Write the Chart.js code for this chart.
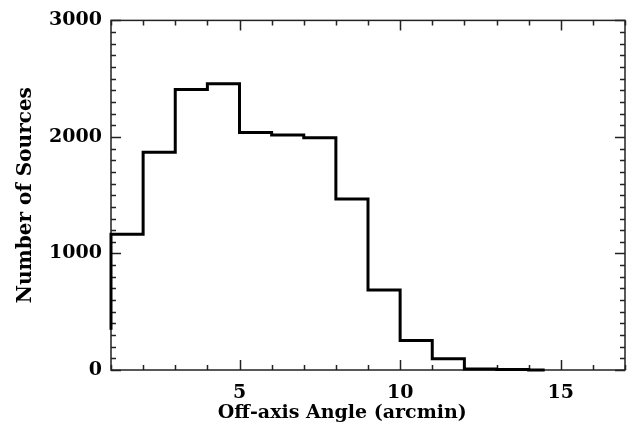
<!DOCTYPE html>
<html>
<head>
<meta charset="utf-8">
<script src="https://cdn.jsdelivr.net/npm/chart.js@4"></script>
<style>
  html, body { margin: 0; padding: 0; background: #fff; }
  #wrap { width: 636px; height: 438px; }
</style>
</head>
<body>
<div id="wrap"><canvas id="histChart" width="636" height="438"></canvas></div>
<script>
// histogram bins (left edges, arcmin) and counts per bin
const binLeft = [1, 2, 3, 4, 5, 6, 7, 8, 9, 10, 11, 12, 13, 14];
const counts = [1165, 1868, 2407, 2457, 2039, 2017, 1992, 1468, 686, 254, 97, 9, 4, 1];
const lastEdge = 14.5;
const startLevel = 345;
const xTickLabels = [5, 10, 15];
const yTickLabels = [0, 1000, 2000, 3000];
const xTitle = 'Off-axis Angle (arcmin)';

const FONT = '"DejaVu Serif", "Liberation Serif", serif';

// build step points for the outline
const stepPoints = [{ x: binLeft[0], y: startLevel }];
binLeft.forEach((x, i) => stepPoints.push({ x: x, y: counts[i] }));
stepPoints.push({ x: lastEdge, y: counts[counts.length - 1] });

// box + inward ticks on all four sides, IDL style
const boxTicks = {
  id: 'boxTicks',
  beforeDatasetsDraw(chart) {
    const { ctx, chartArea: a, scales: { x, y } } = chart;
    ctx.save();
    ctx.strokeStyle = '#222';
    ctx.lineWidth = 1.5;
    ctx.strokeRect(a.left, a.top, a.right - a.left, a.bottom - a.top);
    ctx.beginPath();
    for (let v = 1; v <= 17; v++) {
      const px = Math.round(x.getPixelForValue(v)) + 0.5;
      const len = v % 5 === 0 ? 10 : 5;
      ctx.moveTo(px, a.bottom); ctx.lineTo(px, a.bottom - len);
      ctx.moveTo(px, a.top); ctx.lineTo(px, a.top + len);
    }
    for (let v = 0; v <= 3000; v += 100) {
      const py = Math.round(y.getPixelForValue(v)) + 0.5;
      const len = v % 1000 === 0 ? 10 : 5;
      ctx.moveTo(a.left, py); ctx.lineTo(a.left + len, py);
      ctx.moveTo(a.right, py); ctx.lineTo(a.right - len, py);
    }
    ctx.stroke();

    // x axis title, sits a bit left of centre like the original
    ctx.fillStyle = '#000';
    ctx.font = 'bold 19px ' + FONT;
    ctx.textAlign = 'center';
    ctx.textBaseline = 'middle';
    ctx.fillText(xTitle, a.left + (a.right - a.left) * 0.45, a.bottom + 43);
    ctx.restore();
  }
};

new Chart(document.getElementById('histChart'), {
  type: 'scatter',
  data: {
    datasets: [{
      data: stepPoints,
      showLine: true,
      stepped: 'before',
      borderColor: '#000',
      borderWidth: 3,
      pointRadius: 0,
      fill: false,
      clip: 4
    }]
  },
  options: {
    responsive: false,
    animation: false,
    layout: { padding: { top: 6, right: 11, left: 0, bottom: 0 } },
    plugins: { legend: { display: false }, tooltip: { enabled: false } },
    scales: {
      x: {
        type: 'linear',
        min: 1,
        max: 17,
        afterBuildTicks: s => { s.ticks = xTickLabels.map(v => ({ value: v })); },
        afterFit: s => { s.height = 68; },
        grid: { display: false, drawTicks: false },
        border: { display: false },
        ticks: {
          color: '#000', padding: 12, maxRotation: 0,
          callback: v => String(v),
          font: { family: FONT, size: 19, weight: 'bold' }
        }
      },
      y: {
        min: 0,
        max: 3000,
        afterBuildTicks: s => { s.ticks = yTickLabels.map(v => ({ value: v })); },
        afterFit: s => { s.width = 111; },
        grid: { display: false, drawTicks: false },
        border: { display: false },
        ticks: {
          color: '#000', padding: 9,
          callback: v => String(v),
          font: { family: FONT, size: 19, weight: 'bold' }
        },
        title: {
          display: true,
          text: 'Number of Sources',
          color: '#000',
          padding: { top: 14, bottom: 0 },
          font: { family: FONT, size: 20, weight: 'bold' }
        }
      }
    }
  },
  plugins: [boxTicks]
});
</script>
</body>
</html>
